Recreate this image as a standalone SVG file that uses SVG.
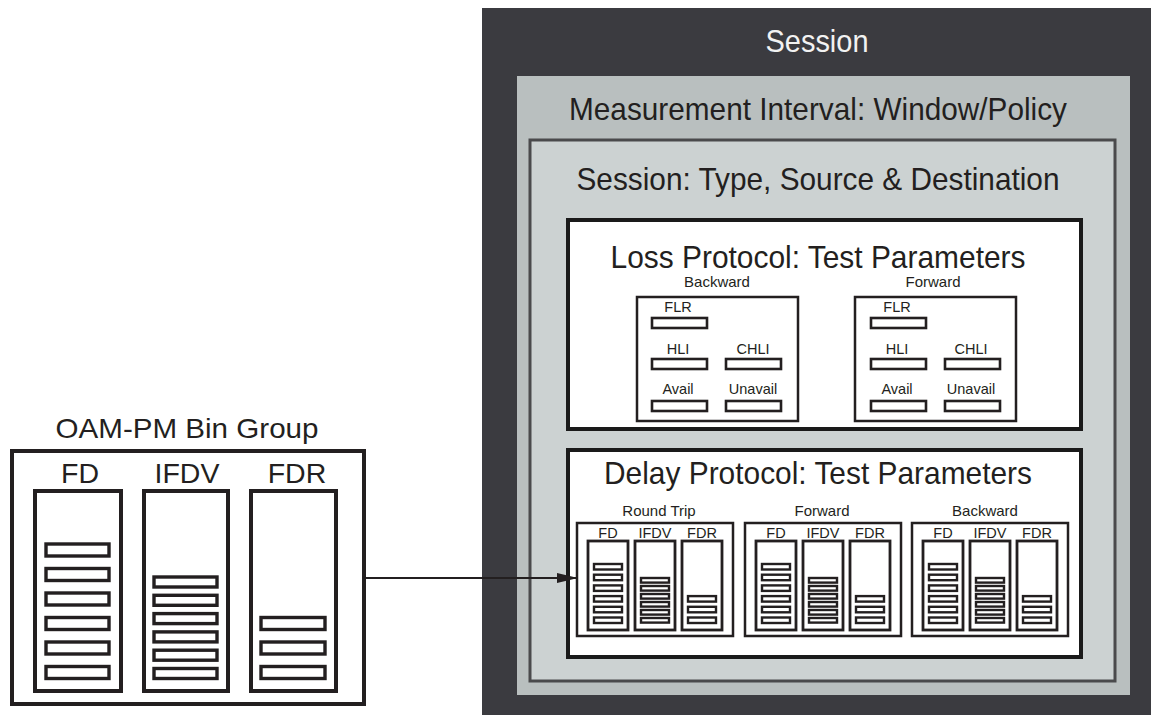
<svg xmlns="http://www.w3.org/2000/svg" width="1151" height="715" viewBox="0 0 1151 715">
  <defs>
    <style>
      text { font-family: "Liberation Sans", Arial, sans-serif; fill: #231f20; text-anchor: middle; }
      .title { font-size: 30.5px; }
      .big { font-size: 28.5px; }
      .small { font-size: 15px; }
      .tiny { font-size: 14.5px; }
      .frame { fill: #ffffff; stroke: #1a1a1a; stroke-width: 4; }
      .sub { fill: #ffffff; stroke: #231f20; stroke-width: 2.5; }
      .col { fill: #ffffff; stroke: #231f20; stroke-width: 2.8; }
      .bin { fill: #ffffff; stroke: #231f20; stroke-width: 2.4; }
      .bar { fill: #ffffff; stroke: #231f20; stroke-width: 2.6; }
      .bcol { fill: #ffffff; stroke: #231f20; stroke-width: 4; }
      .bbin { fill: #ffffff; stroke: #231f20; stroke-width: 3.4; }
      .link { fill: none; stroke: #231f20; stroke-width: 2; }
    </style>
    <marker id="arrow" markerWidth="22" markerHeight="12" refX="21" refY="6" orient="auto" markerUnits="userSpaceOnUse">
      <path d="M0,1 L21,6 L0,11 Z" fill="#231f20"/>
    </marker>
  </defs>

  <rect width="1151" height="715" fill="#ffffff"/>

  <!-- Session container -->
  <g id="session">
    <rect x="482" y="8" width="675" height="715" fill="#3b3b40"/>
    <text class="title" x="817" y="52" textLength="103" lengthAdjust="spacingAndGlyphs" style="fill:#f2f2f2">Session</text>
  </g>

  <!-- Measurement interval -->
  <g id="measurement-interval">
    <rect x="517" y="76" width="613" height="619" fill="#b9bfbf"/>
    <text class="title" x="818" y="120" textLength="498" lengthAdjust="spacingAndGlyphs">Measurement Interval: Window/Policy</text>
  </g>

  <!-- Session type / source / destination -->
  <g id="session-type">
    <rect x="530" y="140" width="585" height="541" fill="#ccd2d2" stroke="#4a4a4c" stroke-width="3"/>
    <text class="title" x="818" y="190" textLength="483" lengthAdjust="spacingAndGlyphs">Session: Type, Source &amp; Destination</text>
  </g>

  <!-- Loss protocol -->
  <g id="loss-protocol">
    <rect class="frame" x="568" y="220" width="513" height="209"/>
    <text class="title" x="818" y="268" textLength="415" lengthAdjust="spacingAndGlyphs">Loss Protocol: Test Parameters</text>

    <g id="loss-backward">
      <text class="small" x="717" y="287">Backward</text>
      <rect class="sub" x="637" y="297" width="161" height="124"/>
      <text class="tiny" x="678" y="312">FLR</text>
      <rect class="bar" x="652" y="318" width="55" height="10"/>
      <text class="tiny" x="678" y="354">HLI</text>
      <text class="tiny" x="753" y="354">CHLI</text>
      <rect class="bar" x="652" y="359" width="55" height="10"/>
      <rect class="bar" x="726" y="359" width="55" height="10"/>
      <text class="tiny" x="678" y="394">Avail</text>
      <text class="tiny" x="753" y="394">Unavail</text>
      <rect class="bar" x="652" y="401" width="55" height="10"/>
      <rect class="bar" x="726" y="401" width="55" height="10"/>
    </g>

    <g id="loss-forward">
      <text class="small" x="933" y="287">Forward</text>
      <rect class="sub" x="855" y="297" width="161" height="124"/>
      <text class="tiny" x="897" y="312">FLR</text>
      <rect class="bar" x="871" y="318" width="55" height="10"/>
      <text class="tiny" x="897" y="354">HLI</text>
      <text class="tiny" x="971" y="354">CHLI</text>
      <rect class="bar" x="871" y="359" width="55" height="10"/>
      <rect class="bar" x="945" y="359" width="55" height="10"/>
      <text class="tiny" x="897" y="394">Avail</text>
      <text class="tiny" x="971" y="394">Unavail</text>
      <rect class="bar" x="871" y="401" width="55" height="10"/>
      <rect class="bar" x="945" y="401" width="55" height="10"/>
    </g>
  </g>

  <!-- Delay protocol -->
  <g id="delay-protocol">
    <rect class="frame" x="568" y="450" width="513" height="207"/>
    <text class="title" x="818" y="484" textLength="428" lengthAdjust="spacingAndGlyphs">Delay Protocol: Test Parameters</text>

    <g id="delay-round-trip" transform="translate(577 0)">
      <text class="small" x="82" y="516">Round Trip</text>
      <rect class="sub" x="0" y="523" width="156" height="113"/>
      <text class="tiny" x="31" y="538">FD</text>
      <text class="tiny" x="78" y="538">IFDV</text>
      <text class="tiny" x="125" y="538">FDR</text>
      <rect class="col" x="11" y="541" width="40" height="89"/>
      <rect class="col" x="58" y="541" width="40" height="89"/>
      <rect class="col" x="105" y="541" width="40" height="89"/>
      <rect class="bin" x="17" y="564" width="28" height="5.5"/>
      <rect class="bin" x="17" y="574.7" width="28" height="5.5"/>
      <rect class="bin" x="17" y="585.4" width="28" height="5.5"/>
      <rect class="bin" x="17" y="596.1" width="28" height="5.5"/>
      <rect class="bin" x="17" y="606.8" width="28" height="5.5"/>
      <rect class="bin" x="17" y="617.5" width="28" height="5.5"/>
      <rect class="bin" x="64" y="578" width="28" height="4.6"/>
      <rect class="bin" x="64" y="586" width="28" height="4.6"/>
      <rect class="bin" x="64" y="594" width="28" height="4.6"/>
      <rect class="bin" x="64" y="602" width="28" height="4.6"/>
      <rect class="bin" x="64" y="610" width="28" height="4.6"/>
      <rect class="bin" x="64" y="618" width="28" height="4.6"/>
      <rect class="bin" x="111" y="596.1" width="28" height="5.5"/>
      <rect class="bin" x="111" y="606.8" width="28" height="5.5"/>
      <rect class="bin" x="111" y="617.5" width="28" height="5.5"/>
    </g>

    <g id="delay-forward" transform="translate(745 0)">
      <text class="small" x="77" y="516">Forward</text>
      <rect class="sub" x="0" y="523" width="156" height="113"/>
      <text class="tiny" x="31" y="538">FD</text>
      <text class="tiny" x="78" y="538">IFDV</text>
      <text class="tiny" x="125" y="538">FDR</text>
      <rect class="col" x="11" y="541" width="40" height="89"/>
      <rect class="col" x="58" y="541" width="40" height="89"/>
      <rect class="col" x="105" y="541" width="40" height="89"/>
      <rect class="bin" x="17" y="564" width="28" height="5.5"/>
      <rect class="bin" x="17" y="574.7" width="28" height="5.5"/>
      <rect class="bin" x="17" y="585.4" width="28" height="5.5"/>
      <rect class="bin" x="17" y="596.1" width="28" height="5.5"/>
      <rect class="bin" x="17" y="606.8" width="28" height="5.5"/>
      <rect class="bin" x="17" y="617.5" width="28" height="5.5"/>
      <rect class="bin" x="64" y="578" width="28" height="4.6"/>
      <rect class="bin" x="64" y="586" width="28" height="4.6"/>
      <rect class="bin" x="64" y="594" width="28" height="4.6"/>
      <rect class="bin" x="64" y="602" width="28" height="4.6"/>
      <rect class="bin" x="64" y="610" width="28" height="4.6"/>
      <rect class="bin" x="64" y="618" width="28" height="4.6"/>
      <rect class="bin" x="111" y="596.1" width="28" height="5.5"/>
      <rect class="bin" x="111" y="606.8" width="28" height="5.5"/>
      <rect class="bin" x="111" y="617.5" width="28" height="5.5"/>
    </g>

    <g id="delay-backward" transform="translate(912 0)">
      <text class="small" x="73" y="516">Backward</text>
      <rect class="sub" x="0" y="523" width="156" height="113"/>
      <text class="tiny" x="31" y="538">FD</text>
      <text class="tiny" x="78" y="538">IFDV</text>
      <text class="tiny" x="125" y="538">FDR</text>
      <rect class="col" x="11" y="541" width="40" height="89"/>
      <rect class="col" x="58" y="541" width="40" height="89"/>
      <rect class="col" x="105" y="541" width="40" height="89"/>
      <rect class="bin" x="17" y="564" width="28" height="5.5"/>
      <rect class="bin" x="17" y="574.7" width="28" height="5.5"/>
      <rect class="bin" x="17" y="585.4" width="28" height="5.5"/>
      <rect class="bin" x="17" y="596.1" width="28" height="5.5"/>
      <rect class="bin" x="17" y="606.8" width="28" height="5.5"/>
      <rect class="bin" x="17" y="617.5" width="28" height="5.5"/>
      <rect class="bin" x="64" y="578" width="28" height="4.6"/>
      <rect class="bin" x="64" y="586" width="28" height="4.6"/>
      <rect class="bin" x="64" y="594" width="28" height="4.6"/>
      <rect class="bin" x="64" y="602" width="28" height="4.6"/>
      <rect class="bin" x="64" y="610" width="28" height="4.6"/>
      <rect class="bin" x="64" y="618" width="28" height="4.6"/>
      <rect class="bin" x="111" y="596.1" width="28" height="5.5"/>
      <rect class="bin" x="111" y="606.8" width="28" height="5.5"/>
      <rect class="bin" x="111" y="617.5" width="28" height="5.5"/>
    </g>
  </g>

  <!-- OAM-PM bin group -->
  <g id="bin-group">
    <text class="big" x="187" y="438" textLength="263" lengthAdjust="spacingAndGlyphs">OAM-PM Bin Group</text>
    <rect class="bcol" x="12" y="451" width="352" height="253"/>
    <text class="big" x="80" y="483">FD</text>
    <text class="big" x="187" y="483">IFDV</text>
    <text class="big" x="297" y="483">FDR</text>
    <rect class="bcol" x="35" y="491" width="86" height="200"/>
    <rect class="bcol" x="144" y="491" width="84" height="200"/>
    <rect class="bcol" x="251" y="491" width="85" height="200"/>
    <rect class="bbin" x="46" y="544" width="63" height="12"/>
    <rect class="bbin" x="46" y="568.5" width="63" height="12"/>
    <rect class="bbin" x="46" y="593" width="63" height="12"/>
    <rect class="bbin" x="46" y="617.5" width="63" height="12"/>
    <rect class="bbin" x="46" y="642" width="63" height="12"/>
    <rect class="bbin" x="46" y="666.5" width="63" height="12"/>
    <rect class="bbin" x="154" y="577" width="63" height="10"/>
    <rect class="bbin" x="154" y="595.3" width="63" height="10"/>
    <rect class="bbin" x="154" y="613.6" width="63" height="10"/>
    <rect class="bbin" x="154" y="631.9" width="63" height="10"/>
    <rect class="bbin" x="154" y="650.2" width="63" height="10"/>
    <rect class="bbin" x="154" y="668.5" width="63" height="10"/>
    <rect class="bbin" x="261" y="617.5" width="64" height="12"/>
    <rect class="bbin" x="261" y="642" width="64" height="12"/>
    <rect class="bbin" x="261" y="666.5" width="64" height="12"/>
  </g>

  <!-- Connectors -->
  <g id="connectors">
    <line class="link" x1="366" y1="578" x2="578" y2="578" marker-end="url(#arrow)"/>
  </g>
</svg>
